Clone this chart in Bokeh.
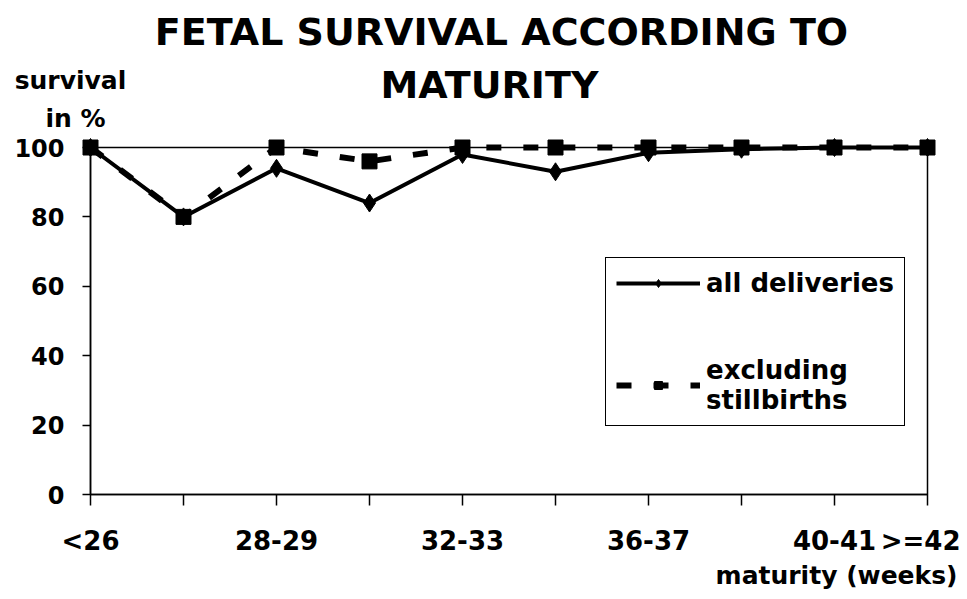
from bokeh.plotting import figure
from bokeh.models import Range1d, FixedTicker, Label, Legend, LegendItem
from bokeh.layouts import column
from bokeh.embed import file_html
from bokeh.resources import INLINE

# ---- data ----
categories = ["<26", "26-27", "28-29", "30-31", "32-33", "34-35", "36-37", "38-39", "40-41", ">=42"]
shown_labels = ["<26", "28-29", "32-33", "36-37", "40-41", ">=42"]
all_deliveries = [100, 80, 94, 84, 98, 93, 98.5, 99.5, 100, 100]
excluding_stillbirths = [100, 80, 100, 96, 100, 100, 100, 100, 100, 100]
y_ticks = [0, 20, 40, 60, 80, 100]

title_lines = ["FETAL SURVIVAL ACCORDING TO", "MATURITY"]
y_title_lines = ["survival", "in %"]
x_title = "maturity (weeks)"

FONT = "DejaVu Sans"
W = 960
HEAD_H = 136
MAIN_H = 422
FOOT_H = 40
FL, FR = 90, 927                       # frame left/right (px)
FT, FB = 147 - HEAD_H, 494 - HEAD_H    # frame top/bottom inside main figure


def text_panel(h):
    f = figure(width=W, height=h, output_backend="svg", toolbar_location=None,
               title=None,
               x_range=Range1d(0, W), y_range=Range1d(0, h),
               x_axis_type=None, y_axis_type=None,
               min_border=0, min_border_left=0, min_border_right=0,
               min_border_top=0, min_border_bottom=0)
    f.frame_align = False
    f.outline_line_color = None
    f.grid.visible = False
    f.background_fill_color = "white"
    f.border_fill_color = "white"
    return f


def add_text(f, h, text, x, baseline, align, size_px):
    # empirical correction: rendered baseline sits ~0.4em below the anchor
    y_top = baseline - 0.4 * size_px
    f.add_layout(Label(x=x, y=h - y_top, text=text, text_align=align,
                       text_baseline="alphabetic", text_font=FONT,
                       text_font_style="bold", text_font_size=f"{size_px}px",
                       text_color="black"))


# ---- header (title + y axis title) ----
head = text_panel(HEAD_H)
add_text(head, HEAD_H, title_lines[0], 501, 47, "center", 38)
add_text(head, HEAD_H, title_lines[1], 489, 100, "center", 38)
add_text(head, HEAD_H, y_title_lines[0], 70, 90, "center", 25)
add_text(head, HEAD_H, y_title_lines[1], 75, 128, "center", 25)

# ---- main chart ----
xs = list(range(len(categories)))
p = figure(width=W, height=MAIN_H, output_backend="svg", toolbar_location=None,
           title=None,
           x_range=Range1d(0, len(categories) - 1), y_range=Range1d(0, 100),
           min_border_left=FL, min_border_right=W - FR,
           min_border_top=FT, min_border_bottom=MAIN_H - FB)
p.frame_align = False
p.background_fill_color = "white"
p.border_fill_color = "white"
p.outline_line_color = "black"
p.outline_line_width = 1.5
p.outline_line_alpha = 1
p.grid.visible = False

p.xaxis.ticker = FixedTicker(ticks=xs)
p.xaxis.major_label_overrides = {i: (c if c in shown_labels else "") for i, c in enumerate(categories)}
p.yaxis.ticker = FixedTicker(ticks=y_ticks)
for ax in (p.xaxis[0], p.yaxis[0]):
    ax.axis_line_color = "black"
    ax.axis_line_width = 1.5
    ax.major_tick_line_color = "black"
    ax.major_tick_line_width = 1.5
    ax.major_tick_in = 0
    ax.minor_tick_line_color = None
    ax.major_label_text_font = FONT
    ax.major_label_text_font_style = "bold"
    ax.major_label_text_color = "black"
p.xaxis.major_tick_out = 11
p.yaxis.major_tick_out = 8
p.xaxis.major_label_text_font_size = "26px"
p.yaxis.major_label_text_font_size = "24px"
p.xaxis.major_label_standoff = 20
p.yaxis.major_label_standoff = 18

r1 = p.line(xs, all_deliveries, line_color="black", line_width=4, level="overlay")
r1m = p.scatter(xs, all_deliveries, marker="diamond", size=18, fill_color="black",
                line_color="black", level="overlay")
r2 = p.line(xs, excluding_stillbirths, line_color="black", line_width=6,
            line_dash="15 22", level="overlay")
r2m = p.scatter(xs, excluding_stillbirths, marker="square", size=15, fill_color="black",
                line_color="black", level="overlay")

legend = Legend(items=[
    LegendItem(label="all deliveries", renderers=[r1, r1m]),
    LegendItem(label="excluding\nstillbirths", renderers=[r2, r2m]),
], location=(515, 68))
legend.border_line_color = "black"
legend.border_line_width = 1.5
legend.border_line_alpha = 1
legend.background_fill_alpha = 1
legend.label_text_font = FONT
legend.label_text_font_style = "bold"
legend.label_text_font_size = "26px"
legend.label_text_color = "black"
legend.glyph_width = 84
legend.glyph_height = 20
legend.label_standoff = 6
legend.spacing = 57
legend.padding = 10
legend.margin = 0
p.add_layout(legend, "center")

# ---- footer (x axis title) ----
foot = text_panel(FOOT_H)
add_text(foot, FOOT_H, x_title, 957, 585 - HEAD_H - MAIN_H, "right", 25)

layout = column(head, p, foot, spacing=0)
open("out.html", "w").write(file_html(layout, INLINE))
